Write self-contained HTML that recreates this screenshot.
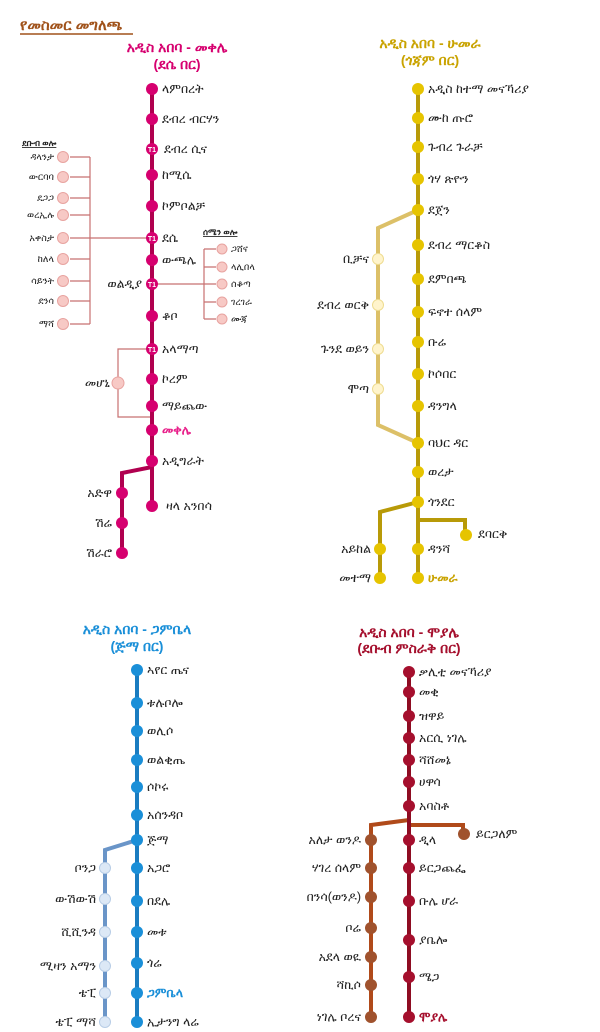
<!DOCTYPE html>
<html><head><meta charset="utf-8"><style>
html,body{margin:0;padding:0;background:#fff;}
svg{display:block;font-family:"Liberation Sans","DejaVu Sans",sans-serif;}
text{font-size:12.5px;fill:#222;}
.t{font-size:14px;font-weight:bold;text-anchor:middle;}
.h{font-size:8.5px;font-weight:bold;text-decoration:underline;}
.s{font-size:9.5px;}
.e{text-anchor:end;}
</style></head><body>
<svg width="600" height="1032" viewBox="0 0 600 1032" xmlns="http://www.w3.org/2000/svg">
<text x="20" y="30" style="font-size:15px;font-weight:bold;fill:#a0521a">የመስመር መግለጫ</text>
<line x1="20" y1="34" x2="133" y2="34" stroke="#a0521a" stroke-width="1.5"/>

<!-- Panel 1 -->
<text class="t" x="177" y="52" style="fill:#d6006f">አዲስ አበባ -  መቀሌ</text>
<text class="t" x="177" y="69" style="fill:#d6006f">(ደሴ በር)</text>
<g fill="none" stroke="#c87070" stroke-width="1.2">
<path d="M90 157V324M70 157H90M70 177H90M70 198H90M70 215H90M70 238H152M70 259H90M70 281H90M70 301H90M70 324H90"/>
<path d="M152 284H204M204 249V319M204 249H216M204 267H216M204 302H216M204 319H216M204 284H216"/>
<path d="M152 349H118V417H152"/>
</g>
<path d="M152 89V506M152 467L122 473V553" fill="none" stroke="#b0004f" stroke-width="4"/>
<g fill="#f7c9c5" stroke="#e8a3a0" stroke-width="1">
<circle cx="63" cy="157" r="5.5"/><circle cx="63" cy="177" r="5.5"/><circle cx="63" cy="198" r="5.5"/><circle cx="63" cy="215" r="5.5"/><circle cx="63" cy="238" r="5.5"/><circle cx="63" cy="259" r="5.5"/><circle cx="63" cy="281" r="5.5"/><circle cx="63" cy="301" r="5.5"/><circle cx="63" cy="324" r="5.5"/>
<circle cx="222" cy="249" r="5"/><circle cx="222" cy="267" r="5"/><circle cx="222" cy="284" r="5"/><circle cx="222" cy="302" r="5"/><circle cx="222" cy="319" r="5"/>
<circle cx="118" cy="383" r="6"/>
</g>
<g fill="#d6006f">
<circle cx="152" cy="89" r="6"/><circle cx="152" cy="119" r="6"/><circle cx="152" cy="175" r="6"/><circle cx="152" cy="206" r="6"/><circle cx="152" cy="260" r="6"/><circle cx="152" cy="316" r="6"/><circle cx="152" cy="379" r="6"/><circle cx="152" cy="406" r="6"/><circle cx="152" cy="430" r="6"/><circle cx="152" cy="461" r="6"/><circle cx="152" cy="506" r="6"/><circle cx="122" cy="493" r="6"/><circle cx="122" cy="523" r="6"/><circle cx="122" cy="553" r="6"/>
<circle cx="152" cy="149" r="6"/><circle cx="152" cy="238" r="6"/><circle cx="152" cy="284" r="6"/><circle cx="152" cy="349" r="6"/>
</g>
<g style="text-anchor:middle"><text x="152" y="152" style="fill:#fff;font-size:7px;font-weight:bold">T1</text><text x="152" y="241" style="fill:#fff;font-size:7px;font-weight:bold">T1</text><text x="152" y="287" style="fill:#fff;font-size:7px;font-weight:bold">T1</text><text x="152" y="352" style="fill:#fff;font-size:7px;font-weight:bold">T1</text></g>
<g>
<text x="162" y="93">ላምበረት</text><text x="162" y="123">ደብረ ብርሃን</text><text x="164" y="153">ደብረ ሲና</text><text x="162" y="179">ከሚሴ</text><text x="162" y="210">ኮምቦልቻ</text><text x="162" y="242">ደሴ</text><text x="162" y="264">ውጫሌ</text><text class="e" x="142" y="288">ወልዲያ</text><text x="162" y="320">ቆቦ</text><text x="162" y="353">አላማጣ</text><text x="162" y="383">ኮረም</text><text x="162" y="410">ማይጨው</text><text x="162" y="434" style="fill:#e8208a;font-weight:bold">መቀሌ</text><text x="162" y="465">አዲግራት</text><text x="166" y="510">ዛላ አንበሳ</text>
<text class="e" x="112" y="497">አድዋ</text><text class="e" x="112" y="527">ሽሬ</text><text class="e" x="112" y="557">ሽራሮ</text><text class="e" x="110" y="387">መሆኒ</text>
</g>
<text class="h" x="22" y="146">ደቡብ ወሎ</text>
<g><text x="54" y="160" class="s e">ዳላንታ</text><text x="54" y="180" class="s e">ውርባባ</text><text x="54" y="201" class="s e">ደጋጋ</text><text x="54" y="218" class="s e">ወረኢሉ</text><text x="54" y="241" class="s e">አቀስታ</text><text x="54" y="262" class="s e">ከለላ</text><text x="54" y="284" class="s e">ሳይንት</text><text x="54" y="304" class="s e">ደንሳ</text><text x="54" y="327" class="s e">ማሻ</text></g>
<text class="h" x="203" y="235">ሰሜን ወሎ</text>
<text class="s" x="231" y="252">ጋሸና</text><text class="s" x="231" y="270">ላሊበላ</text><text class="s" x="231" y="287">ሰቆጣ</text><text class="s" x="231" y="305">ገረገራ</text><text class="s" x="231" y="322">ሙጃ</text>

<!-- Panel 2 -->
<text class="t" x="430" y="48" style="fill:#c9a300">አዲስ አበባ -  ሁመራ</text>
<text class="t" x="430" y="65" style="fill:#c9a300">(ጎጃም በር)</text>
<path d="M418 210L378 228V425L418 443" fill="none" stroke="#dcc068" stroke-width="4"/>
<path d="M418 89V578M418 502L380 512V578M418 520H465V535" fill="none" stroke="#b89a08" stroke-width="4"/>
<g fill="#fff4cc" stroke="#eedc90"><circle cx="378" cy="259" r="5.5"/><circle cx="378" cy="305" r="5.5"/><circle cx="378" cy="349" r="5.5"/><circle cx="378" cy="389" r="5.5"/></g>
<g fill="#e6c400">
<circle cx="418" cy="89" r="6"/><circle cx="418" cy="118" r="6"/><circle cx="418" cy="147" r="6"/><circle cx="418" cy="179" r="6"/><circle cx="418" cy="210" r="6"/><circle cx="418" cy="245" r="6"/><circle cx="418" cy="279" r="6"/><circle cx="418" cy="312" r="6"/><circle cx="418" cy="342" r="6"/><circle cx="418" cy="374" r="6"/><circle cx="418" cy="406" r="6"/><circle cx="418" cy="443" r="6"/><circle cx="418" cy="472" r="6"/><circle cx="418" cy="502" r="6"/><circle cx="418" cy="549" r="6"/><circle cx="418" cy="578" r="6"/><circle cx="380" cy="549" r="6"/><circle cx="380" cy="578" r="6"/><circle cx="466" cy="535" r="6"/>
</g>
<text x="428" y="93">አዲስ ከተማ መናኻሪያ</text><text x="428" y="122">ሙከ ጡሮ</text><text x="428" y="151">ጉብረ ጉራቻ</text><text x="428" y="183">ጎሃ ጽዮን</text><text x="428" y="214">ደጀን</text><text x="428" y="249">ደብረ ማርቆስ</text><text x="428" y="283">ደምበጫ</text><text x="428" y="316">ፍኖተ ሰላም</text><text x="428" y="346">ቡሬ</text><text x="428" y="378">ኮሶበር</text><text x="428" y="410">ዳንግላ</text><text x="428" y="447">ባህር ዳር</text><text x="428" y="476">ወረታ</text><text x="428" y="506">ጎንደር</text><text x="428" y="553">ዳንሻ</text><text x="428" y="582" style="fill:#c9a300;font-weight:bold">ሁመራ</text><text x="478" y="538">ደባርቅ</text>
<text class="e" x="371" y="553">አይከል</text><text class="e" x="371" y="582">መተማ</text>
<text class="e" x="369" y="263">ቢቻና</text><text class="e" x="369" y="309">ደብረ ወርቅ</text><text class="e" x="369" y="353">ጉንደ ወይን</text><text class="e" x="369" y="393">ሞጣ</text>

<!-- Panel 3 -->
<text class="t" x="137" y="634" style="fill:#1a8fd8">አዲስ አበባ - ጋምቤላ</text>
<text class="t" x="137" y="651" style="fill:#1a8fd8">(ጅማ በር)</text>
<path d="M137 840L105 850V1022" fill="none" stroke="#6a95c8" stroke-width="4"/>
<path d="M137 670V1022" fill="none" stroke="#1a7cc0" stroke-width="4"/>
<g fill="#dce8f6" stroke="#b8cde6"><circle cx="105" cy="868" r="5.5"/><circle cx="105" cy="899" r="5.5"/><circle cx="105" cy="932" r="5.5"/><circle cx="105" cy="966" r="5.5"/><circle cx="105" cy="993" r="5.5"/><circle cx="105" cy="1022" r="5.5"/></g>
<g fill="#1a8fd8"><circle cx="137" cy="670" r="6"/><circle cx="137" cy="703" r="6"/><circle cx="137" cy="731" r="6"/><circle cx="137" cy="760" r="6"/><circle cx="137" cy="787" r="6"/><circle cx="137" cy="815" r="6"/><circle cx="137" cy="840" r="6"/><circle cx="137" cy="868" r="6"/><circle cx="137" cy="901" r="6"/><circle cx="137" cy="932" r="6"/><circle cx="137" cy="963" r="6"/><circle cx="137" cy="993" r="6"/><circle cx="137" cy="1022" r="6"/></g>
<text x="147" y="674">ኣየር ጤና</text><text x="147" y="707">ቱሉቦሎ</text><text x="147" y="735">ወሊሶ</text><text x="147" y="764">ወልቂጤ</text><text x="147" y="791">ሶኮሩ</text><text x="147" y="819">አሰንዳቦ</text><text x="147" y="844">ጅማ</text><text x="147" y="872">አጋሮ</text><text x="147" y="905">በደሌ</text><text x="147" y="936">መቱ</text><text x="147" y="967">ጎሬ</text><text x="147" y="997" style="fill:#1a8fd8;font-weight:bold">ጋምቤላ</text><text x="147" y="1026">ኢታንግ ላሬ</text>
<text class="e" x="96" y="872">ቦንጋ</text><text class="e" x="96" y="903">ውሽውሽ</text><text class="e" x="96" y="936">ሺሺንዳ</text><text class="e" x="96" y="970">ሚዛን አማን</text><text class="e" x="96" y="997">ቴፒ</text><text class="e" x="96" y="1026">ቴፒ ማሻ</text>

<!-- Panel 4 -->
<text class="t" x="409" y="637" style="fill:#a50f2d">አዲስ አበባ - ሞያሌ</text>
<text class="t" x="409" y="653" style="fill:#a50f2d">(ደቡብ ምስራቅ በር)</text>
<path d="M409 820L371 825V1017M409 825H463V834" fill="none" stroke="#b04a1a" stroke-width="4"/>
<path d="M409 672V1017" fill="none" stroke="#8e0c22" stroke-width="4"/>
<g fill="#a0522d"><circle cx="371" cy="840" r="6"/><circle cx="371" cy="868" r="6"/><circle cx="371" cy="897" r="6"/><circle cx="371" cy="928" r="6"/><circle cx="371" cy="957" r="6"/><circle cx="371" cy="985" r="6"/><circle cx="371" cy="1017" r="6"/><circle cx="464" cy="834" r="6"/></g>
<g fill="#a50f2d"><circle cx="409" cy="672" r="6"/><circle cx="409" cy="692" r="6"/><circle cx="409" cy="716" r="6"/><circle cx="409" cy="738" r="6"/><circle cx="409" cy="760" r="6"/><circle cx="409" cy="782" r="6"/><circle cx="409" cy="806" r="6"/><circle cx="409" cy="840" r="6"/><circle cx="409" cy="868" r="6"/><circle cx="409" cy="901" r="6"/><circle cx="409" cy="940" r="6"/><circle cx="409" cy="977" r="6"/><circle cx="409" cy="1017" r="6"/></g>
<text x="419" y="676">ቃሊቲ መናኻሪያ</text><text x="419" y="696">መቂ</text><text x="419" y="720">ዝዋይ</text><text x="419" y="742">አርሲ ነገሌ</text><text x="419" y="764">ሻሸመኔ</text><text x="419" y="786">ሀዋሳ</text><text x="419" y="810">አባስቶ</text><text x="419" y="844">ዲላ</text><text x="419" y="872">ይርጋጨፌ</text><text x="419" y="905">ቡሌ ሆራ</text><text x="419" y="944">ያቤሎ</text><text x="419" y="981">ሜጋ</text><text x="419" y="1021" style="fill:#a50f2d;font-weight:bold">ሞያሌ</text><text x="476" y="838">ይርጋለም</text>
<text class="e" x="361" y="844">አለታ ወንዶ</text><text class="e" x="361" y="872">ሃገረ ሰላም</text><text class="e" x="361" y="901">በንሳ(ወንዶ)</text><text class="e" x="361" y="932">ቦሬ</text><text class="e" x="361" y="961">አደላ ወዪ</text><text class="e" x="361" y="989">ሻኪሶ</text><text class="e" x="361" y="1021">ነገሌ ቦረና</text>
</svg>
</body></html>
